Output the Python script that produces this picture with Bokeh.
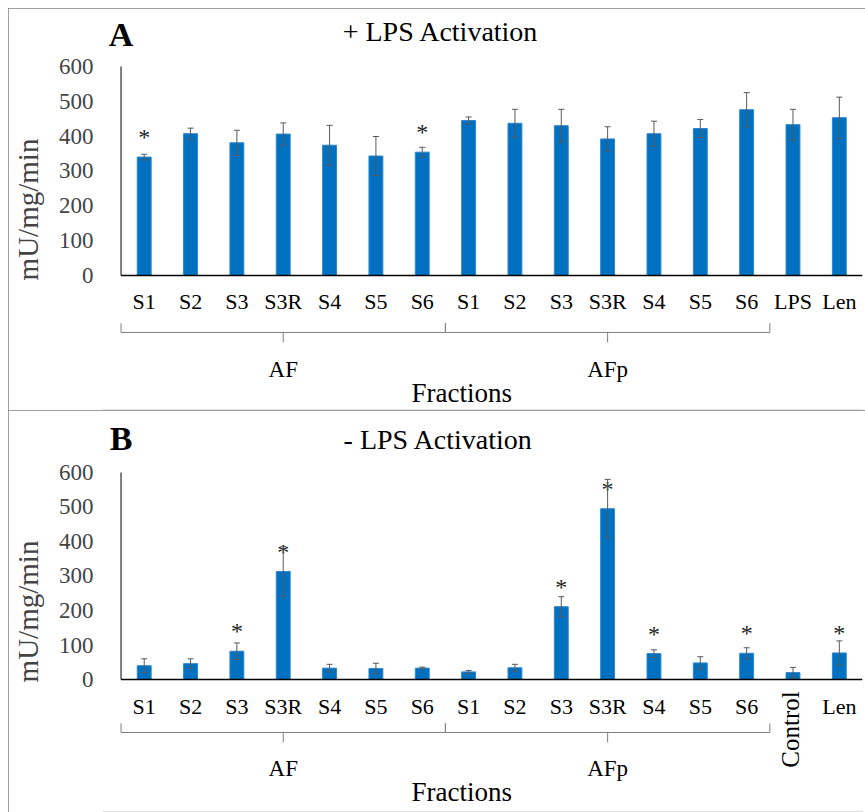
from math import pi
from bokeh.plotting import figure
from bokeh.models import (ColumnDataSource, Whisker, TeeHead,
                          FixedTicker, Range1d)
from bokeh.layouts import column
from bokeh.core.properties import value
from bokeh.embed import file_html
from bokeh.resources import INLINE

FONT = "Liberation Serif"

fractions = ["S1", "S2", "S3", "S3R", "S4", "S5", "S6"]
groups = ["AF", "AFp"]
y_ticks = [0, 100, 200, 300, 400, 500, 600]

# Panel A: + LPS activation
a_extra = ["LPS", "Len"]
a_values = [340, 407, 381, 406, 374, 343, 354,
            445, 437, 430, 392, 407, 422, 476,
            433, 453]
a_errors = [8, 16, 36, 32, 57, 56, 14,
            10, 40, 47, 35, 36, 26, 49,
            44, 59]
a_sig = [1, 0, 0, 0, 0, 0, 1,
         0, 0, 0, 0, 0, 0, 0,
         0, 0]

# Panel B: - LPS activation
b_extra = ["Control", "Len"]
b_values = [40, 46, 82, 313, 33, 32, 33,
            22, 34, 211, 495, 75, 48, 76,
            20, 77]
b_errors = [20, 14, 24, 72, 11, 15, 3,
            4, 10, 29, 85, 11, 18, 16,
            15, 35]
b_sig = [0, 0, 1, 1, 0, 0, 0,
         0, 0, 1, 1, 1, 0, 1,
         0, 1]


def txt(p, x, y, t, size, **kw):
    src = ColumnDataSource(dict(x=x, y=y, t=t))
    opts = dict(text_font=value(FONT), text_font_size=size, text_align="center",
                text_baseline="middle", text_color="black")
    opts.update(kw)
    p.text(x="x", y="y", text="t", source=src, **opts)


def make_panel(letter, title, extra, values, errors, sig, cfg):
    labels = fractions * len(groups) + extra
    n = len(labels)
    k = len(fractions)
    xs = [i + 0.5 for i in range(n)]          # category centres

    p = figure(x_range=Range1d(-0.4, n), y_range=Range1d(*cfg["yr"]),
               width=857, height=402,
               output_backend="svg", toolbar_location=None,
               min_border_left=92, min_border_right=3,
               min_border_top=1, min_border_bottom=1)
    p.outline_line_color = None
    p.xgrid.visible = False
    p.ygrid.visible = False
    p.xaxis.visible = False
    p.title.visible = False
    p.styles = {"outline": "1px solid #7f7f7f", "outline-offset": "-1px"}

    src = ColumnDataSource(dict(
        x=xs, top=values,
        upper=[v + e for v, e in zip(values, errors)],
        lower=[v - e for v, e in zip(values, errors)],
    ))
    p.vbar(x="x", top="top", width=0.3, source=src,
           fill_color="#0070C0", line_color="#2f86cc", line_width=1)

    wk = Whisker(base="x", upper="upper", lower="lower", source=src,
                 level="overlay", line_color="#595959", line_width=1,
                 upper_head=TeeHead(size=6, line_color="#595959", line_width=1),
                 lower_head=TeeHead(size=6, line_color="#595959", line_width=1))
    p.add_layout(wk)

    # axis lines (y axis from 0 to 600, x axis along zero)
    p.segment(x0=[0], y0=[y_ticks[0]], x1=[0], y1=[y_ticks[-1]],
              line_color="black", line_width=1)
    p.segment(x0=[0], y0=[0], x1=[n], y1=[0], line_color="black", line_width=1.5)

    # significance stars
    sx = [x for x, s in zip(xs, sig) if s]
    sy = [v + cfg["star"] for v, s in zip(values, sig) if s]
    txt(p, sx, sy, ["*"] * len(sx), "24px", text_color="#222222")

    # category labels (Control is written vertically)
    hx = [x for x, l in zip(xs, labels) if l != "Control"]
    hl = [l for l in labels if l != "Control"]
    txt(p, hx, [cfg["cat_y"]] * len(hx), hl, "22px")
    if "Control" in labels:
        cx = xs[labels.index("Control")]
        txt(p, [cx - 0.06], [cfg["control_y"]], ["Control"], "25px", angle=pi / 2)

    # braces under the two fraction groups
    yl, yu, yd = cfg["brace"]
    x0, y0, x1, y1 = [], [], [], []
    gx = []
    for gi in range(len(groups)):
        a, b = gi * k, (gi + 1) * k
        c = (a + b) / 2
        gx.append(c)
        for xs_, ys_, xe_, ye_ in [(a, yu, a, yl), (a, yl, b, yl),
                                   (b, yl, b, yu), (c, yl, c, yd)]:
            x0.append(xs_); y0.append(ys_); x1.append(xe_); y1.append(ye_)
    p.segment(x0=x0, y0=y0, x1=x1, y1=y1, line_color="#7f7f7f", line_width=1)
    txt(p, gx, [cfg["group_y"]] * len(gx), groups, "23px")

    # titles
    txt(p, [cfg["frac_x"]], [cfg["frac_y"]], ["Fractions"], "27px")
    txt(p, [cfg["title_x"]], [cfg["title_y"]], [title], "28px")
    txt(p, [0], [cfg["letter_y"]], [letter], "34px", text_font_style="bold")

    # y axis (its own line is replaced by the segment at x = 0)
    ya = p.yaxis[0]
    ya.ticker = FixedTicker(ticks=y_ticks)
    ya.bounds = (y_ticks[0], y_ticks[-1])
    ya.axis_label = "mU/mg/min"
    ya.axis_label_text_font = FONT
    ya.axis_label_text_font_size = "29px"
    ya.axis_label_text_font_style = "normal"
    ya.axis_label_standoff = 12
    ya.major_label_text_font = FONT
    ya.major_label_text_font_size = "23px"
    ya.major_label_standoff = 3
    ya.major_tick_line_color = None
    ya.minor_tick_line_color = None
    ya.axis_line_color = None
    return p


cfgA = dict(yr=(-384.7, 763.6), star=58, cat_y=-74.6, control_y=0,
            brace=(-163.6, -137, -192), group_y=-270, frac_x=7.35, frac_y=-336,
            title_x=6.9, title_y=700.5, letter_y=692)
cfgB = dict(yr=(-382.6, 776.8), star=58, cat_y=-78, control_y=-145,
            brace=(-153.6, -127, -182.6), group_y=-258, frac_x=7.35, frac_y=-327.5,
            title_x=6.85, title_y=695.6, letter_y=699)

pA = make_panel("A", "+ LPS Activation", a_extra, a_values, a_errors, a_sig, cfgA)
pB = make_panel("B", "- LPS Activation", b_extra, b_values, b_errors, b_sig, cfgB)

layout = column(pA, pB, spacing=0, margin=(8, 0, 0, 8))
open("out.html", "w").write(file_html(layout, INLINE))
